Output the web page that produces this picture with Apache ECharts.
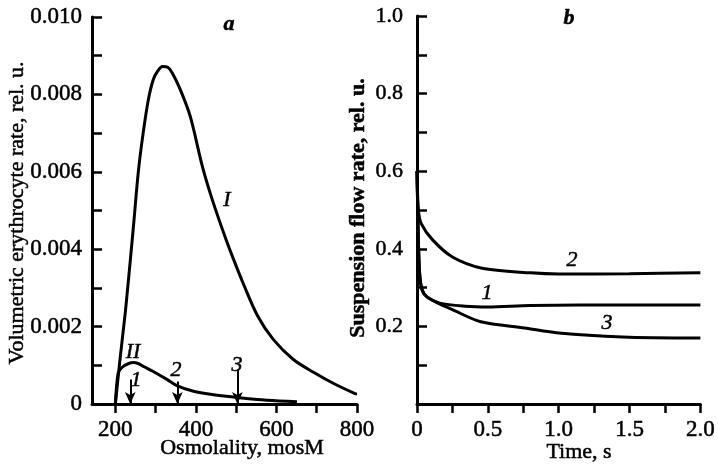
<!DOCTYPE html>
<html>
<head>
<meta charset="utf-8">
<script src="https://cdn.jsdelivr.net/npm/echarts@6/dist/echarts.min.js"></script>
<style>html,body{margin:0;padding:0;background:#fff}#c{width:718px;height:469px}</style>
</head>
<body>
<div id="c"></div>
<script>
// Panel a: volumetric erythrocyte rate vs osmolality
var curveI = [[200,0],[212,0.0012],[225,0.0024],[237,0.0037],[245,0.0046],[257,0.0060],[269,0.0070],[282,0.00787],[294,0.00838],[305,0.0086],[317,0.00872],[330,0.0087],[341,0.00856],[361,0.00813],[386,0.00743],[416,0.00614],[440,0.0053],[473,0.0043],[493,0.00375],[518,0.0031],[553,0.00228],[592,0.00167],[642,0.00115],[692,0.00082],[742,0.00053],[795,0.00027],[800,0.00026]];
var curveII = [[200,0],[207,0.0008],[217,0.00095],[232,0.00104],[245,0.00107],[258,0.00104],[270,0.00097],[294,0.00084],[329,0.00063],[354,0.00047],[394,0.00033],[436,0.00025],[503,0.00017],[577,0.0001],[651,0.00006]];
var arrowX = [237, 354, 503];
var arrowTop = [0.00063, 0.00058, 0.0009];
var xTicksA = [200,300,400,500,600,700,800];
var xLabelsA = [200,400,600,800];
// Panel b: suspension flow rate vs time
var curve1 = [[0,0.6],[0.008,0.45],[0.018,0.34],[0.035,0.295],[0.07,0.276],[0.16,0.26],[0.34,0.252],[0.5,0.25],[0.8,0.254],[1.5,0.255],[2.0,0.255]];
var curve2 = [[0,0.6],[0.01,0.5],[0.03,0.465],[0.11,0.423],[0.25,0.379],[0.46,0.35],[0.8,0.338],[1.0,0.335],[1.5,0.336],[2.0,0.338]];
var curve3 = [[0,0.6],[0.008,0.45],[0.018,0.34],[0.035,0.295],[0.07,0.276],[0.16,0.258],[0.25,0.243],[0.45,0.212],[0.76,0.196],[1.0,0.183],[1.45,0.173],[2.0,0.170]];

var FONT = 'Liberation Serif';
var axLine = {show:true, onZero:false, lineStyle:{color:'#000', width:3}};
function lbl(sz){ return {color:'#000', fontFamily:FONT, fontSize:sz, textBorderColor:'#000', textBorderWidth:0.5}; }
function lineSeries(data, xi, yi){
  return {type:'line', data:data, xAxisIndex:xi, yAxisIndex:yi, showSymbol:false, smooth:0.3,
    lineStyle:{color:'#000', width:3}, silent:true, animation:false};
}
var chart = echarts.init(document.getElementById('c'));
var arrows = arrowX.map(function(x,i){return [{coord:[x,arrowTop[i]]},{coord:[x,0]}];});
var sII = lineSeries(curveII,0,0);
sII.markLine = {silent:true, symbol:['none','arrow'], symbolSize:[8,12], animation:false,
  lineStyle:{color:'#000', width:2, type:'solid'}, label:{show:false}, data:arrows};

function txt(x,y,t,font,rot){
  var o = {type:'text', x:x, y:y, style:{text:t, font:font, fill:'#000', stroke:'#000', lineWidth:0.5, align:'center', verticalAlign:'middle'}};
  if(rot) o.rotation = rot;
  return o;
}
var IT = 'italic 22px "Liberation Serif"';
chart.setOption({
  animation:false,
  grid:[{left:92, top:17, width:265, height:387},{left:417, top:16, width:290, height:388}],
  xAxis:[
    {type:'value', gridIndex:0, min:142, max:800, axisLine:axLine,
     splitLine:{show:false},
     axisTick:{show:true, inside:false, length:9, lineStyle:{color:'#000', width:2.5}, customValues:xTicksA},
     axisLabel:Object.assign({customValues:xLabelsA, margin:14}, lbl(23))},
    {type:'value', gridIndex:1, min:0, max:2, interval:0.25, axisLine:axLine,
     splitLine:{show:false},
     axisTick:{show:true, inside:false, length:9, lineStyle:{color:'#000', width:2.5}},
     axisLabel:Object.assign({margin:14, formatter:function(v){
       var k = Math.round(v*4); if(k%2) return ''; return v===0?'0':v.toFixed(1);}}, lbl(23))}
  ],
  yAxis:[
    {type:'value', gridIndex:0, min:0, max:0.01, interval:0.001, axisLine:axLine,
     splitLine:{show:false},
     axisTick:{show:true, inside:true, length:10, lineStyle:{color:'#000', width:2.5}},
     axisLabel:Object.assign({margin:10, formatter:function(v){
       var k = Math.round(v*1000); if(k%2) return ''; return k===0?'0':v.toFixed(3);}}, lbl(23))},
    {type:'value', gridIndex:1, min:0, max:1, interval:0.1, axisLine:axLine,
     splitLine:{show:false},
     axisTick:{show:true, inside:true, length:10, lineStyle:{color:'#000', width:2.5}},
     axisLabel:Object.assign({margin:14, formatter:function(v){
       var k = Math.round(v*10); if(k%2 || k===0) return ''; return v.toFixed(1);}}, lbl(22))}
  ],
  series:[lineSeries(curveI,0,0), sII, lineSeries(curve1,1,1), lineSeries(curve2,1,1), lineSeries(curve3,1,1)],
  graphic:[
    txt(17,213,'Volumetric erythrocyte rate, rel. u.','22px "Liberation Serif"',Math.PI/2),
    txt(358,208,'Suspension flow rate, rel. u.','bold 22px "Liberation Serif"',Math.PI/2),
    txt(242,448,'Osmolality, mosM','22px "Liberation Serif"'),
    txt(579,452,'Time, s','22px "Liberation Serif"'),
    txt(229,24,'a','italic bold 22px "Liberation Serif"'),
    txt(569,18,'b','italic bold 22px "Liberation Serif"'),
    txt(227,200,'I',IT),
    txt(133,352,'II',IT),
    txt(136,380,'1',IT),
    txt(176,370,'2',IT),
    txt(237,365,'3',IT),
    txt(572,260,'2',IT),
    txt(487,293,'1',IT),
    txt(607,323,'3',IT)
  ]
});
</script>
</body>
</html>
